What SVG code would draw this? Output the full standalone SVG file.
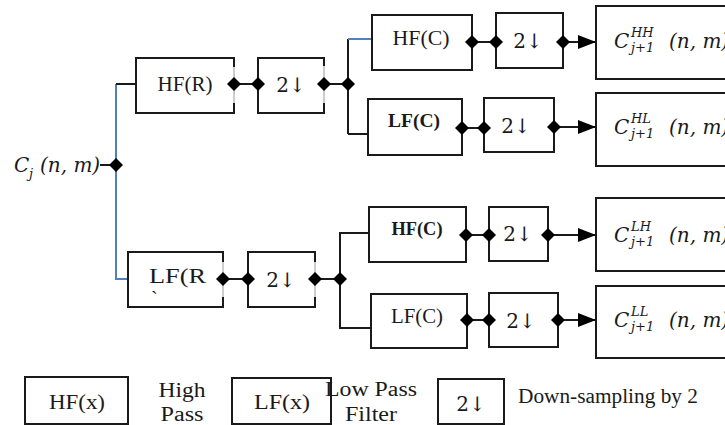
<svg xmlns="http://www.w3.org/2000/svg" width="725" height="425" viewBox="0 0 725 425">
<style>
.box{fill:#fff;stroke:#1a1a1a;stroke-width:2}
.edge{stroke:#9a9a9a;stroke-width:1;fill:none}
.ln{stroke:#1a1a1a;stroke-width:2;fill:none}
.bl{stroke:#4f81bd;stroke-width:2;fill:none}
.t{font-family:"Liberation Serif","Times New Roman",serif;font-size:20px;fill:#1a1a1a}
.tb{font-family:"Liberation Serif","Times New Roman",serif;font-size:18px;font-weight:bold;fill:#1a1a1a}
.ds{font-family:"DejaVu Serif","Liberation Serif",serif;font-size:20px;fill:#1a1a1a}
.m{font-family:"DejaVu Serif","Liberation Serif",serif;font-style:italic;font-size:20px;fill:#1a1a1a}
.s{font-family:"DejaVu Serif","Liberation Serif",serif;font-style:italic;font-size:13px;fill:#1a1a1a}
</style>
<defs>
<path id="dm" d="M-7,0 L0,-7 L7,0 L0,7 Z" fill="#000"/>
<marker id="ah" markerWidth="18" markerHeight="14" refX="18" refY="7" orient="auto" markerUnits="userSpaceOnUse">
<path d="M0,0 L18,7 L0,14 Z" fill="#000"/>
</marker>
</defs>

<g id="connectors">
<line class="ln" x1="100" y1="165" x2="116" y2="165"/>
<polyline class="bl" points="116,84 116,279 128,279"/>
<line class="ln" x1="116" y1="84" x2="136" y2="84"/>
<line class="ln" x1="234" y1="84" x2="258" y2="84"/>
<line class="ln" x1="324" y1="84" x2="348" y2="84"/>
<line class="ln" x1="348" y1="39" x2="348" y2="134"/>
<line class="bl" x1="348" y1="39" x2="372" y2="39"/>
<line class="ln" x1="348" y1="134" x2="368" y2="134"/>
<line class="ln" x1="223" y1="279" x2="248" y2="279"/>
<line class="ln" x1="315" y1="279" x2="340" y2="279"/>
<polyline class="ln" points="369,233 340,233 340,328 370,328"/>
<line class="ln" x1="472" y1="42" x2="496" y2="42"/>
<line class="ln" x1="563" y1="42" x2="596" y2="42" marker-end="url(#ah)"/>
<line class="ln" x1="462" y1="128" x2="484" y2="128"/>
<line class="ln" x1="554" y1="127" x2="596" y2="127" marker-end="url(#ah)"/>
<line class="ln" x1="466" y1="235" x2="489" y2="235"/>
<line class="ln" x1="548" y1="235" x2="596" y2="235" marker-end="url(#ah)"/>
<line class="ln" x1="467" y1="320" x2="489" y2="320"/>
<line class="ln" x1="558" y1="320" x2="596" y2="320" marker-end="url(#ah)"/>
</g>

<g id="input">
<text class="m" x="14" y="172" font-size="21">C</text>
<text class="s" x="29" y="178">j</text>
<text class="m" x="40" y="172">(n, m)</text>
<use href="#dm" x="116" y="165"/>
</g>

<g id="hfr">
<path class="box" d="M234,67 V58 H136 V113 H234 V103"/>
<line class="edge" x1="234" y1="67" x2="234" y2="103"/>
<text class="t" x="185" y="91" text-anchor="middle" textLength="55" lengthAdjust="spacingAndGlyphs">HF(R)</text>
<use href="#dm" x="234" y="84"/>
</g>
<g id="ds1">
<path class="box" d="M324,66 V58 H258 V113 H324 V103"/>
<line class="edge" x1="324" y1="66" x2="324" y2="103"/>
<text class="ds" x="291" y="92" text-anchor="middle">2↓</text>
<use href="#dm" x="258" y="84"/>
<use href="#dm" x="324" y="84"/>
</g>
<g id="j1"><use href="#dm" x="348" y="84"/></g>

<g id="lfr">
<path class="box" d="M223,262 V252 H128 V307 H223 V297"/>
<line class="edge" x1="223" y1="262" x2="223" y2="297"/>
<text class="t" x="149" y="283" textLength="57" lengthAdjust="spacingAndGlyphs">LF(R</text>
<text class="t" x="151" y="306" font-size="13">`</text>
<use href="#dm" x="223" y="279"/>
</g>
<g id="ds2">
<path class="box" d="M315,262 V252 H248 V307 H315 V297"/>
<line class="edge" x1="315" y1="262" x2="315" y2="297"/>
<text class="ds" x="281" y="287" text-anchor="middle">2↓</text>
<use href="#dm" x="248" y="279"/>
<use href="#dm" x="315" y="279"/>
</g>
<g id="j2"><use href="#dm" x="340" y="279"/></g>

<g id="hfc1">
<rect class="box" x="372" y="15" width="100" height="55"/>
<text class="t" x="421" y="45" text-anchor="middle" textLength="57" lengthAdjust="spacingAndGlyphs">HF(C)</text>
<use href="#dm" x="472" y="42"/>
</g>
<g id="ds3">
<rect class="box" x="496" y="13" width="67" height="55"/>
<text class="ds" x="528" y="48" text-anchor="middle" font-size="22">2↓</text>
<use href="#dm" x="496" y="42"/>
<use href="#dm" x="563" y="42"/>
</g>
<g id="outHH">
<rect class="box" x="596" y="6" width="140" height="73"/>
<text class="m" x="614" y="48" font-size="21">C</text>
<text class="s" x="631" y="37">HH</text>
<text class="s" x="631" y="52">j+1</text>
<text class="m" x="669" y="48">(n, m)</text>
</g>

<g id="lfc1">
<rect class="box" x="368" y="99" width="94" height="56"/>
<text class="tb" x="414" y="127" text-anchor="middle" textLength="52" lengthAdjust="spacingAndGlyphs">LF(C)</text>
<use href="#dm" x="462" y="128"/>
</g>
<g id="ds4">
<rect class="box" x="484" y="98" width="70" height="54"/>
<text class="ds" x="516" y="133" text-anchor="middle" font-size="22">2↓</text>
<use href="#dm" x="484" y="128"/>
<use href="#dm" x="554" y="127"/>
</g>
<g id="outHL">
<rect class="box" x="596" y="93" width="140" height="73"/>
<text class="m" x="614" y="134" font-size="21">C</text>
<text class="s" x="631" y="123">HL</text>
<text class="s" x="631" y="138">j+1</text>
<text class="m" x="669" y="134">(n, m)</text>
</g>

<g id="hfc2">
<rect class="box" x="369" y="207" width="97" height="55"/>
<text class="tb" x="417" y="235" text-anchor="middle" textLength="51" lengthAdjust="spacingAndGlyphs">HF(C)</text>
<use href="#dm" x="466" y="235"/>
</g>
<g id="ds5">
<rect class="box" x="489" y="207" width="59" height="54"/>
<text class="ds" x="518" y="241" text-anchor="middle" font-size="22">2↓</text>
<use href="#dm" x="489" y="235"/>
<use href="#dm" x="548" y="235"/>
</g>
<g id="outLH">
<rect class="box" x="596" y="198" width="140" height="73"/>
<text class="m" x="614" y="242" font-size="21">C</text>
<text class="s" x="631" y="231">LH</text>
<text class="s" x="631" y="246">j+1</text>
<text class="m" x="669" y="242">(n, m)</text>
</g>

<g id="lfc2">
<rect class="box" x="371" y="294" width="96" height="54"/>
<text class="t" x="417" y="323" text-anchor="middle" textLength="52" lengthAdjust="spacingAndGlyphs">LF(C)</text>
<use href="#dm" x="467" y="320"/>
</g>
<g id="ds6">
<rect class="box" x="489" y="293" width="69" height="54"/>
<text class="ds" x="521" y="328" text-anchor="middle" font-size="22">2↓</text>
<use href="#dm" x="489" y="320"/>
<use href="#dm" x="558" y="320"/>
</g>
<g id="outLL">
<rect class="box" x="596" y="286" width="140" height="72"/>
<text class="m" x="614" y="327" font-size="21">C</text>
<text class="s" x="631" y="316">LL</text>
<text class="s" x="631" y="331">j+1</text>
<text class="m" x="669" y="327">(n, m)</text>
</g>

<g id="legend">
<rect class="box" x="25" y="377" width="103" height="47"/>
<text class="t" x="77" y="409" text-anchor="middle" textLength="56" lengthAdjust="spacingAndGlyphs">HF(x)</text>
<text class="t" x="182" y="397" text-anchor="middle" textLength="47" lengthAdjust="spacingAndGlyphs">High</text>
<text class="t" x="182" y="421" text-anchor="middle" textLength="43" lengthAdjust="spacingAndGlyphs">Pass</text>
<rect class="box" x="232" y="378" width="99" height="46"/>
<text class="t" x="282" y="409" text-anchor="middle" textLength="56" lengthAdjust="spacingAndGlyphs">LF(x)</text>
<text class="t" x="325" y="396" textLength="92" lengthAdjust="spacingAndGlyphs">Low Pass</text>
<text class="t" x="345" y="421" textLength="52" lengthAdjust="spacingAndGlyphs">Filter</text>
<rect class="box" x="438" y="379" width="66" height="45"/>
<text class="ds" x="471" y="411" text-anchor="middle">2↓</text>
<text class="t" x="518" y="403" textLength="180" lengthAdjust="spacingAndGlyphs">Down-sampling by 2</text>
</g>
</svg>
